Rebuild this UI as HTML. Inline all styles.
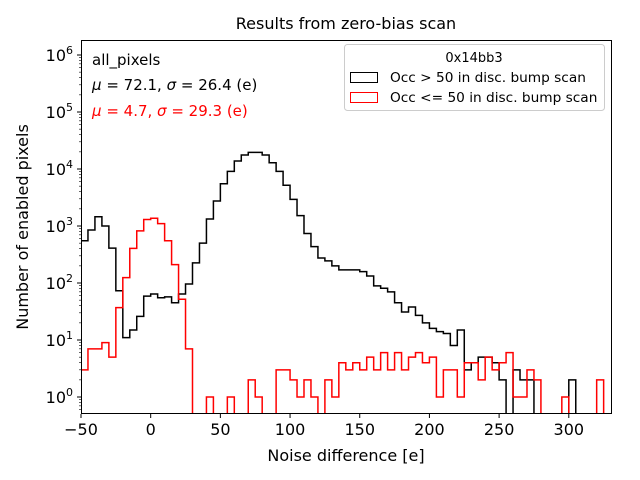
<!DOCTYPE html>
<html><head><meta charset="utf-8"><style>
body{margin:0;background:#fff;}
svg{display:block;font-family:"DejaVu Sans","Liberation Sans",sans-serif;}
</style></head><body>
<svg id="chart" width="640" height="480" viewBox="0 0 640 480">
<text x="346" y="29" font-size="16" text-anchor="middle">Results from zero-bias scan</text>
<text x="346" y="461" font-size="16" text-anchor="middle">Noise difference [e]</text>
<text transform="translate(28,227) rotate(-90)" font-size="16" text-anchor="middle">Number of enabled pixels</text>
<defs><clipPath id="plotclip"><rect x="81" y="40" width="531" height="374"/></clipPath></defs>
<g id="series" clip-path="url(#plotclip)"></g>
<g id="axes"></g>
<text x="92" y="65" font-size="15">all_pixels</text>
<text x="92" y="90" font-size="15"><tspan font-style="italic">μ</tspan> = 72.1, <tspan font-style="italic">σ</tspan> = 26.4 (e)</text>
<text x="92" y="116" font-size="15" fill="#ff0000"><tspan font-style="italic">μ</tspan> = 4.7, <tspan font-style="italic">σ</tspan> = 29.3 (e)</text>
<g>
<rect x="344.5" y="44.5" width="260" height="66" rx="3" fill="#fff" fill-opacity="0.8" stroke="#ccc"/>
<text x="474" y="62" font-size="13" text-anchor="middle">0x14bb3</text>
<rect x="350.5" y="72.5" width="27" height="10" fill="none" stroke="#000"/>
<text x="390" y="82" font-size="13.7">Occ &gt; 50 in disc. bump scan</text>
<rect x="350.5" y="92.5" width="27" height="10" fill="none" stroke="#ff0000"/>
<text x="390" y="102" font-size="13.7">Occ &lt;= 50 in disc. bump scan</text>
</g>
</svg>
<script>
const binStart = -50;
const binWidth = 5;
const blackCounts = [550,850,1450,1000,410,73,11,15,26,59,64,55,57,45,64,96,225,500,1330,2750,5500,9100,13800,17600,19600,19600,17600,12900,9100,5200,2930,1520,740,435,275,245,200,170,170,170,158,133,89,81,70,45,31,38,27,20,16,14,13,8,15,3,4,5,5,4,2,0,3,2,2,0,0,0,0,0,2,0,0,0,0,0];
const redCounts = [3,7,7,9,5,37,124,405,820,1300,1370,1100,550,210,52,7,0,0,1,0,0,1,0,0,2,1,0,0,3,3,2,1,2,1,0,2,1,4,3,4,3,5,3,6,3,6,3,5,6,4,5,1,3,3,1,4,4,2,5,3,4,6,1,1,3,2,0,0,0,1,0,0,0,0,2,0];
const xTicks = [-50,0,50,100,150,200,250,300];
const yTickExps = [0,1,2,3,4,5,6];

const L=81,R=612,T=40,B=414;
const xMin=-50,xMax=331;
const yMinLog=-0.298,yMaxLog=6.263;
function xs(v){return L+(v-xMin)/(xMax-xMin)*(R-L);}
function ys(v){ if(v<=0) return B+50; return B-(Math.log10(v)-yMinLog)/(yMaxLog-yMinLog)*(B-T);}
const NS='http://www.w3.org/2000/svg';
function mk(tag,attrs,parent){const e=document.createElementNS(NS,tag);for(const k in attrs)e.setAttribute(k,attrs[k]);parent.appendChild(e);return e;}

const series=document.getElementById('series');
function stepPath(counts){
  let d='M'+xs(binStart)+','+(B+50);
  counts.forEach((c,i)=>{
    const x0=xs(binStart+i*binWidth), x1=xs(binStart+(i+1)*binWidth);
    d+=' L'+x0+','+ys(c)+' L'+x1+','+ys(c);
  });
  d+=' L'+xs(binStart+counts.length*binWidth)+','+(B+50);
  return d;
}
const pb=mk('path',{d:stepPath(blackCounts),fill:'none',stroke:'#000','stroke-width':1.5},series);


const pr=mk('path',{d:stepPath(redCounts),fill:'none',stroke:'#ff0000','stroke-width':1.5},series);



const axes=document.getElementById('axes');
const frame=mk('rect',{x:L+0.5,y:T+0.5,width:R-L-1,height:B-T-1,fill:'none',stroke:'#000','stroke-width':1},axes);


xTicks.forEach(v=>{
  const x=xs(v);
  const t=mk('line',{x1:x,x2:x,y1:B,y2:B+4,stroke:'#000'},axes);
  
  
  const lb=mk('text',{x:x,y:B+21,'font-size':16,'text-anchor':'middle'},axes);
  lb.textContent=(v<0?'\u2212'+(-v):String(v));
  
  
});
yTickExps.forEach(e=>{
  const y=ys(Math.pow(10,e));
  const t=mk('line',{x1:L-4,x2:L,y1:y,y2:y,stroke:'#000'},axes);
  
  
  const lb=mk('text',{x:L-8,y:y+6,'font-size':16,'text-anchor':'end'},axes);
  
  
  lb.appendChild(document.createTextNode('10'));
  const sp=document.createElementNS(NS,'tspan');
  sp.setAttribute('dy','-7');sp.setAttribute('font-size','11');sp.textContent=String(e);
  lb.appendChild(sp);
  for(let m=2;m<=9;m++){
    const yy=ys(m*Math.pow(10,e));
    if(yy<T) continue;
    const mt=mk('line',{x1:L-2,x2:L,y1:yy,y2:yy,stroke:'#000','stroke-width':0.6},axes);
    
    
  }
});
for(let m=2;m<=9;m++){
  const yy=ys(m*0.1);
  if(yy>B) continue;
  const mt=mk('line',{x1:L-2,x2:L,y1:yy,y2:yy,stroke:'#000','stroke-width':0.6},axes);
  
  
}
</script>
</body></html>
